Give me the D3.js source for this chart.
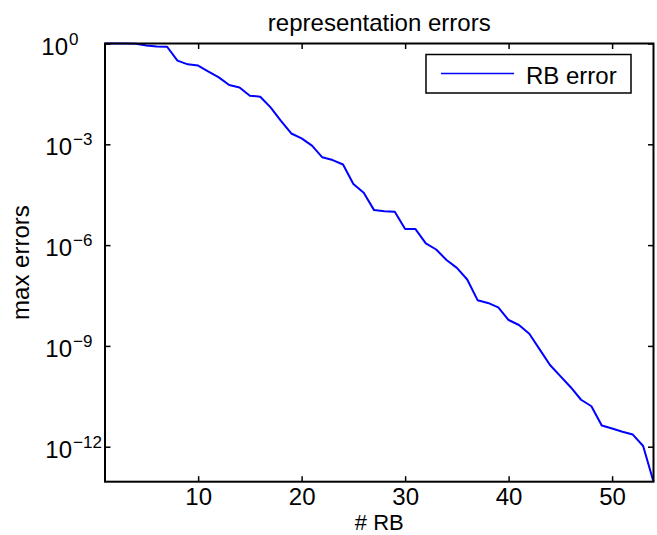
<!DOCTYPE html>
<html>
<head>
<meta charset="utf-8">
<script src="https://cdn.jsdelivr.net/npm/d3@7"></script>
<style>
  html, body { margin: 0; padding: 0; background: #fff; }
  svg { display: block; font-family: "Liberation Sans", Arial, Helvetica, sans-serif; }
</style>
</head>
<body>
<svg id="chart" width="657" height="535"></svg>
<script>
// ---- data ----
const rbCount = d3.range(1, 55);
const rbError = [
  1.0, 1.0, 1.0, 0.99, 0.87, 0.81, 0.80, 0.31, 0.24, 0.22,
  0.145, 0.098, 0.058, 0.049, 0.028, 0.026, 0.0126, 0.0050, 0.0021, 0.0015,
  9.1e-4, 4.1e-4, 3.4e-4, 2.5e-4, 6.6e-5, 3.6e-5, 1.1e-5, 1.02e-5, 9.8e-6, 3.0e-6,
  3.0e-6, 1.12e-6, 7.4e-7, 3.6e-7, 2.1e-7, 9.5e-8, 2.3e-8, 1.9e-8, 1.4e-8, 5.9e-9,
  4.2e-9, 2.3e-9, 7.9e-10, 2.7e-10, 1.26e-10, 5.9e-11, 2.5e-11, 1.6e-11, 4.3e-12, 3.5e-12,
  2.8e-12, 2.3e-12, 1.05e-12, 9.1e-14
];
const xTicks = [10, 20, 30, 40, 50];
const yTickExponents = [0, -3, -6, -9, -12];
const titleText = "representation errors";
const xLabel = "# RB";
const yLabel = "max errors";
const legendLabel = "RB error";

// ---- layout ----
const L = 105, R = 653.5, T = 43.5, B = 481.7;
const svg = d3.select("#chart");

const x = d3.scaleLinear().domain([d3.min(rbCount), d3.max(rbCount)]).range([L, R]);
const y = d3.scaleLog().domain([d3.min(rbError), d3.max(rbError)]).range([B, T]);

const tickLen = 5.5;
const fontSize = 24;

// line
const line = d3.line().x((d, i) => x(rbCount[i])).y(d => y(d));
svg.append("path")
  .datum(rbError)
  .attr("d", line)
  .attr("fill", "none")
  .attr("stroke", "#0000ff")
  .attr("stroke-width", 2)
  .attr("stroke-linejoin", "round");

// axes
const xAxisB = svg.append("g").attr("transform", `translate(0,${B})`)
  .call(d3.axisBottom(x).tickValues(xTicks).tickSize(-tickLen).tickPadding(6.5));
const xAxisT = svg.append("g").attr("transform", `translate(0,${T})`)
  .call(d3.axisTop(x).tickValues(xTicks).tickSize(-tickLen).tickFormat(""));
const yTickVals = yTickExponents.map(e => Math.pow(10, e));
const yAxisL = svg.append("g").attr("transform", `translate(${L},0)`)
  .call(d3.axisLeft(y).tickValues(yTickVals).tickSize(-tickLen).tickFormat(""));
const yAxisR = svg.append("g").attr("transform", `translate(${R},0)`)
  .call(d3.axisRight(y).tickValues(yTickVals).tickSize(-tickLen).tickFormat(""));

[xAxisB, xAxisT, yAxisL, yAxisR].forEach(g => {
  g.select(".domain").remove();
  g.selectAll(".tick line").attr("stroke", "#000").attr("stroke-width", 1.5);
  g.selectAll(".tick text")
    .attr("fill", "#000")
    .style("font-size", fontSize + "px")
    .style("font-family", '"Liberation Sans", Arial, Helvetica, sans-serif');
});

// frame
svg.append("rect")
  .attr("x", L).attr("y", T)
  .attr("width", R - L).attr("height", B - T)
  .attr("fill", "none").attr("stroke", "#000").attr("stroke-width", 2);

// y tick labels with superscripts
const yLab = svg.append("g");
yTickExponents.forEach(e => {
  const yy = y(Math.pow(10, e));
  const shift = e === 0 ? -4 : 0;
  yLab.append("text")
    .attr("x", 72 + shift).attr("y", yy + 11)
    .attr("text-anchor", "end")
    .style("font-size", fontSize + "px")
    .text("10");
  yLab.append("text")
    .attr("x", 73 + shift).attr("y", yy + 1)
    .attr("text-anchor", "start")
    .style("font-size", "17px")
    .text(e === 0 ? "0" : "\u2212" + Math.abs(e));
});

// title
svg.append("text")
  .attr("x", (L + R) / 2).attr("y", 31)
  .attr("text-anchor", "middle")
  .style("font-size", fontSize + "px")
  .text(titleText);

// x label
svg.append("text")
  .attr("x", (L + R) / 2).attr("y", 530.3)
  .attr("text-anchor", "middle")
  .style("font-size", "22px")
  .text(xLabel);

// y label
svg.append("text")
  .attr("transform", `translate(29,${(T + B) / 2}) rotate(-90)`)
  .attr("text-anchor", "middle")
  .style("font-size", fontSize + "px")
  .text(yLabel);

// legend
const lg = svg.append("g");
lg.append("rect")
  .attr("x", 426).attr("y", 54.5)
  .attr("width", 205).attr("height", 38.5)
  .attr("fill", "#fff").attr("stroke", "#000").attr("stroke-width", 1.5);
lg.append("line")
  .attr("x1", 441).attr("x2", 514).attr("y1", 73.5).attr("y2", 73.5)
  .attr("stroke", "#0000ff").attr("stroke-width", 1.5);
lg.append("text")
  .attr("x", 526).attr("y", 84)
  .style("font-size", fontSize + "px")
  .text(legendLabel);
</script>
</body>
</html>
